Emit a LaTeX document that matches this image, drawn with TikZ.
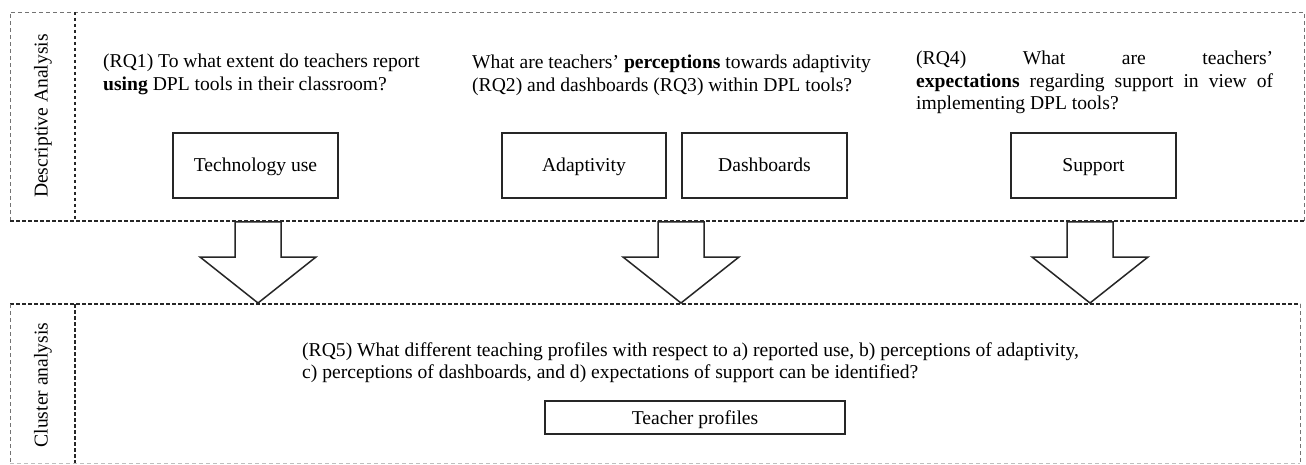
\documentclass[tikz,border=0pt]{standalone}
\usepackage{fontspec}
\setmainfont{Liberation Serif}
\newcommand\fs{\fontsize{19.6}{22.5}\selectfont}
\begin{document}
\begin{tikzpicture}[x=1pt,y=-1pt,
  panel/.style={draw=black!55, line width=0.9pt, dash pattern=on 4pt off 3pt},
  divider/.style={draw=black!85, line width=1.1pt, dash pattern=on 3.5pt off 2.5pt},
  varbox/.style={draw=black!85, line width=1.4pt, minimum width=165pt, minimum height=65pt,
    inner sep=0pt, text height=13.5pt, text depth=0.5pt, font=\fs},
  rq/.style={anchor=north west, inner sep=0pt, align=left, font=\fs},
  bigarrow/.style={draw=black!85, line width=1.5pt, fill=white, line join=miter},
]
\useasboundingbox[fill=white] (0,0) rectangle (1306,465);

% top panel
\draw[panel] (10,221) -- (10,12) -- (1304,12) -- (1304,221);
\draw[divider] (10,221) -- (1304,221);
\draw[divider] (75,12) -- (75,221);
% bottom panel
\draw[divider] (10,304) -- (1300,304);
\draw[panel] (10,304) -- (10,463);
\draw[panel] (1300,304) -- (1300,463);
\draw[panel, draw=black!25] (10,463) -- (1300,463);
\draw[divider] (75,304) -- (75,463);

% side labels
\node[rotate=90, font=\fs, inner sep=0pt] (lblD) at (43,116) {Descriptive Analysis};
\node[rotate=90, font=\fs, inner sep=0pt] (lblC) at (43,385) {Cluster analysis};

% research questions
\node[rq] (rq1) at (103,54) {(RQ1) To what extent do teachers report\\\textbf{using} DPL tools in their classroom?};
\node[rq] (rq2) at (472,55) {What are teachers’ \textbf{perceptions} towards adaptivity\\(RQ2) and dashboards (RQ3) within DPL tools?};
\node[rq] (rq4) at (916,51) {\makebox[357pt][s]{(RQ4) What are teachers’}\\\makebox[357pt][s]{\textbf{expectations} regarding support in view of}\\implementing DPL tools?};
\node[rq] (rq5) at (302,342) {(RQ5) What different teaching profiles with respect to a) reported use, b) perceptions of adaptivity,\\c) perceptions of dashboards, and d) expectations of support can be identified?};

% variable boxes
\node[varbox] (tech) at (255.5,165.5) {Technology use};
\node[varbox, minimum width=164pt] (adapt) at (584,165.5) {Adaptivity};
\node[varbox] (dash) at (764.5,165.5) {Dashboards};
\node[varbox] (supp) at (1093.5,165.5) {Support};
\node[varbox, minimum width=300pt, minimum height=33pt] (prof) at (695,417.5) {Teacher profiles};

% block arrows
\foreach \c in {258,681,1090}
  \draw[bigarrow] ({\c-23},222) -- ({\c+23},222) -- ({\c+23},257) -- ({\c+58},257)
    -- (\c,303) -- ({\c-58},257) -- ({\c-23},257) -- cycle;
\end{tikzpicture}
\end{document}
